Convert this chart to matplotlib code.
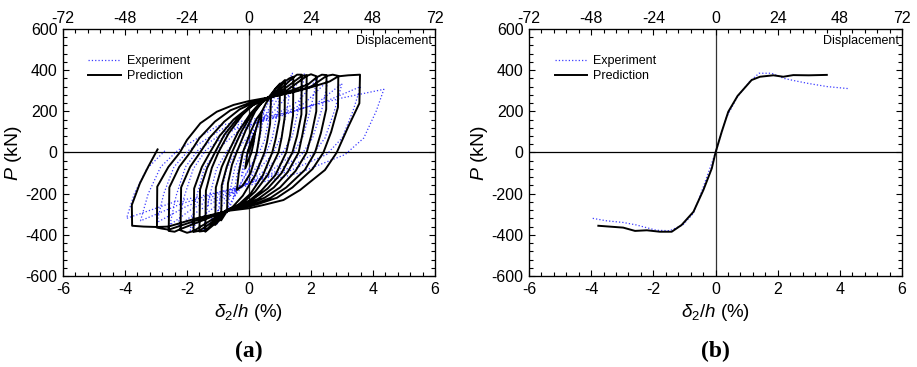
import matplotlib
matplotlib.use('Agg')
import matplotlib.pyplot as plt
from matplotlib.ticker import MultipleLocator

plt.rcParams['font.family'] = ['Liberation Sans', 'DejaVu Sans']
plt.rcParams['mathtext.fontset'] = 'custom'
plt.rcParams['mathtext.rm'] = 'Liberation Sans'
plt.rcParams['mathtext.it'] = 'Liberation Sans:italic'
plt.rcParams['axes.unicode_minus'] = False

# hysteresis, prediction (one line per cycle)
pred_drift = [
    0, 0.1, 0.2, 0.15, 0.08, -0.05, -0.12, -0.08, -0.05, 0.05,
    0.2, 0.3, 0.41, 0.36, 0.25, 0.05, -0.2, -0.39, -0.33, -0.2, 0.05, 0.25,
    0.41, 0.55, 0.71, 0.68, 0.58, 0.5, 0.2, -0.2, -0.5, -0.71, -0.68, -0.55, -0.4, -0.1, 0.2, 0.45,
    0.71, 0.85, 1.0, 0.98, 0.85, 0.75, 0.45, 0.05, -0.35, -0.71, -0.9, -0.88, -0.72, -0.55, -0.25, 0.1, 0.4, 0.6,
    0.8, 1.0, 1.16, 1.15, 1.05, 0.95, 0.6, 0.2, -0.2, -0.75, -0.9, -1.09, -1.07, -0.88, -0.67, -0.35, 0.05, 0.35, 0.6,
    0.9, 1.16, 1.3, 1.43, 1.42, 1.32, 1.2, 0.85, 0.4, 0.0, -0.72, -1.09, -1.41, -1.39, -1.2, -0.99, -0.65, -0.2, 0.2, 0.6,
    1.0, 1.43, 1.55, 1.7, 1.69, 1.55, 1.4, 1.05, 0.6, 0.1, -0.3, -0.72, -1.2, -1.41, -1.6, -1.58, -1.35, -1.1, -0.8, -0.35, 0.1, 0.6,
    1.1, 1.7, 1.86, 1.85, 1.72, 1.6, 1.25, 0.8, 0.3, -0.2, -0.7, -1.3, -1.6, -1.79, -1.77, -1.52, -1.26, -0.95, -0.5, 0.0, 0.6,
    1.2, 1.86, 2.0, 2.18, 2.17, 2.02, 1.86, 1.5, 1.0, 0.5, -0.1, -0.7, -1.4, -1.79, -2.0, -2.21, -2.19, -1.9, -1.58, -1.25, -0.8, -0.3, 0.2, 0.58,
    1.3, 1.9, 2.18, 2.35, 2.5, 2.49, 2.32, 2.13, 1.8, 1.2, 0.7, 0.1, -0.65, -1.5, -2.21, -2.4, -2.59, -2.57, -2.25, -1.9, -1.6, -1.1, -0.6, 0.0, 0.55,
    1.4, 2.0, 2.5, 2.7, 2.88, 2.87, 2.65, 2.4, 2.05, 1.4, 0.9, 0.3, -0.2, -0.65, -1.6, -2.59, -2.8, -2.97, -2.96, -2.6, -2.23, -2.0, -1.57, -1.04, -0.5, 0.0, 0.55,
    1.48, 2.07, 2.6, 2.88, 3.2, 3.58, 3.56, 3.2, 2.83, 2.45, 1.65, 1.11, 0.47, 0.0, -0.6, -1.7, -2.6, -2.97, -3.4, -3.77, -3.78, -3.52, -3.25, -2.95,
]
pred_load = [
    0, 55, 101, 50, 0, -50, -77, -35, 0, 45,
    101, 150, 198, 100, 0, -100, -160, -182, -100, 0, 100, 165,
    198, 240, 275, 140, 50, 0, -110, -210, -260, -288, -150, -60, 0, 110, 200, 250,
    275, 310, 335, 160, 60, 0, -110, -200, -255, -285, -330, -160, -70, 0, 100, 190, 240, 262,
    300, 330, 352, 170, 70, 0, -110, -190, -245, -283, -320, -352, -170, -70, 0, 100, 190, 240, 262,
    300, 345, 360, 368, 180, 80, 0, -110, -185, -235, -282, -345, -385, -185, -75, 0, 95, 185, 240, 265,
    305, 365, 378, 378, 185, 80, 0, -100, -175, -230, -260, -280, -350, -380, -384, -180, -75, 0, 85, 170, 230, 265,
    305, 372, 376, 190, 85, 0, -95, -170, -225, -258, -280, -350, -380, -386, -175, -70, 0, 80, 160, 220, 265,
    300, 372, 380, 370, 200, 90, 0, -90, -170, -220, -258, -280, -345, -382, -390, -378, -170, -70, 0, 75, 150, 210, 245, 265,
    298, 330, 365, 378, 376, 210, 95, 0, -85, -170, -220, -255, -280, -330, -372, -385, -381, -170, -70, 0, 70, 150, 205, 240, 262,
    295, 320, 372, 378, 372, 220, 100, 0, -80, -170, -220, -250, -268, -280, -325, -375, -370, -365, -166, -70, 0, 61, 142, 198, 231, 250, 265,
    295, 320, 345, 370, 375, 378, 239, 125, 0, -85, -182, -231, -255, -271, -282, -320, -360, -362, -360, -356, -255, -150, -69, 15,
]

# hysteresis, experiment
exp_drift = [
    0, 0.12, 0.25, 0.15, 0.05, -0.1, -0.25, -0.15, -0.05,
    0.2, 0.35, 0.5, 0.42, 0.3, 0.15, -0.2, -0.5, -0.4, -0.25, 0.0,
    0.35, 0.75, 0.65, 0.5, 0.3, 0.0, -0.4, -0.71, -0.6, -0.45, -0.2, 0.2,
    0.6, 1.05, 0.92, 0.75, 0.5, 0.1, -0.5, -1.05, -0.92, -0.72, -0.4, 0.1,
    0.7, 1.1, 1.4, 1.25, 1.05, 0.75, 0.2, -0.6, -1.1, -1.47, -1.3, -1.05, -0.7, -0.1,
    0.8, 1.4, 1.8, 1.62, 1.4, 1.05, 0.4, -0.6, -1.4, -1.9, -1.72, -1.45, -1.05, -0.3,
    0.8, 1.6, 2.2, 2.0, 1.75, 1.4, 0.7, -0.4, -1.6, -2.3, -2.1, -1.8, -1.4, -0.5,
    0.8, 1.8, 2.55, 2.35, 2.05, 1.7, 0.9, -0.3, -1.8, -2.55, -2.35, -2.05, -1.65, -0.7,
    0.9, 2.2, 3.0, 2.75, 2.45, 2.05, 1.1, -0.2, -2.0, -2.97, -2.75, -2.42, -1.95, -0.8,
    1.0, 2.5, 3.6, 3.35, 3.0, 2.5, 1.3, 0.0, -2.2, -3.5, -3.25, -2.85, -2.3, -1.0,
    1.1, 3.0, 4.35, 4.1, 3.7, 3.1, 1.6, 0.0, -2.4, -3.95, -3.7, -3.3, -2.7,
]
exp_load = [
    0, 65, 130, 40, 0, -60, -120, -30, 10,
    100, 170, 220, 130, 30, -40, -130, -215, -120, -20, 60,
    160, 280, 170, 60, -10, -80, -190, -295, -180, -70, 10, 100,
    200, 340, 200, 70, -20, -100, -220, -352, -210, -80, 10, 100,
    210, 300, 385, 230, 80, -10, -100, -210, -300, -380, -230, -80, 10, 110,
    200, 300, 385, 230, 80, -10, -100, -200, -300, -378, -230, -80, 10, 110,
    180, 250, 360, 220, 80, -10, -90, -180, -280, -360, -220, -80, 10, 110,
    170, 240, 350, 210, 70, -10, -90, -170, -270, -352, -210, -70, 10, 110,
    170, 240, 335, 200, 70, -10, -90, -160, -260, -340, -200, -70, 10, 120,
    180, 250, 320, 200, 70, -10, -90, -150, -250, -332, -200, -70, 10, 130,
    190, 265, 307, 200, 70, -10, -100, -160, -240, -320, -200, -80, 10,
]

# envelopes
pred_env_drift = [-3.77, -2.97, -2.59, -2.21, -1.79, -1.41, -1.09, -0.71, -0.39, -0.12, 0.0,
                  0.2, 0.41, 0.71, 1.16, 1.43, 1.86, 2.18, 2.5, 3.0, 3.58]
pred_env_load = [-356, -365, -381, -378, -385, -385, -352, -288, -182, -77, 0,
                 101, 198, 275, 352, 368, 375, 368, 376, 375, 377]
exp_env_drift = [-3.95, -3.5, -2.97, -2.55, -1.9, -1.47, -1.05, -0.71, -0.4, 0.0,
                 0.35, 0.7, 1.1, 1.4, 1.8, 2.2, 2.5, 3.0, 3.6, 4.3]
exp_env_load = [-320, -332, -340, -352, -378, -380, -352, -295, -170, 0,
                170, 270, 345, 385, 385, 360, 350, 335, 320, 310]

H = 12.0  # mm per % drift (top axis)

fig = plt.figure(figsize=(9.17, 3.67), dpi=100)
ax1 = fig.add_axes([0.0687, 0.248, 0.4057, 0.673])
ax2 = fig.add_axes([0.5769, 0.248, 0.4068, 0.673])

blue = '#3c3cff'


def style(ax, tag):
    ax.axhline(0, color='k', lw=0.9, zorder=1)
    ax.axvline(0, color='#333333', lw=0.9, zorder=1)
    ax.set_xlim(-6, 6)
    ax.set_ylim(-600, 600)
    ax.xaxis.set_major_locator(MultipleLocator(2))
    ax.xaxis.set_minor_locator(MultipleLocator(0.4))
    ax.yaxis.set_major_locator(MultipleLocator(200))
    ax.yaxis.set_minor_locator(MultipleLocator(40))
    ax.tick_params(which='both', direction='in', right=True, labelsize=11.5, pad=4)
    ax.tick_params(which='major', length=4.5, width=0.8)
    ax.tick_params(which='minor', length=2.8, width=0.8)
    for s in ax.spines.values():
        s.set_linewidth(0.9)
    ax.set_xlabel(r'$\delta_2/h$ (%)', fontsize=13.5, labelpad=4)
    ax.set_ylabel(r'$P$ (kN)', fontsize=14, labelpad=1)
    top = ax.twiny()
    top.set_xlim(-6 * H, 6 * H)
    top.xaxis.set_major_locator(MultipleLocator(24))
    top.xaxis.set_minor_locator(MultipleLocator(4.8))
    top.tick_params(which='both', direction='in', labelsize=11.5, pad=2)
    top.tick_params(which='major', length=4.5, width=0.8)
    top.tick_params(which='minor', length=2.8, width=0.8)
    ax.text(0.993, 0.975, 'Displacement', transform=ax.transAxes,
            ha='right', va='top', fontsize=9)
    ax.legend(loc='upper left', bbox_to_anchor=(0.055, 0.915), frameon=False,
              fontsize=9, handlelength=2.6, handletextpad=0.5,
              labelspacing=0.25, borderaxespad=0)
    ax.text(0.5, -0.305, tag, transform=ax.transAxes, ha='center', va='center',
            fontsize=17, fontweight='bold', family='Liberation Serif')


ax1.plot(exp_drift, exp_load, ls=':', color=blue, lw=0.9, label='Experiment', zorder=2)
ax1.plot(pred_drift, pred_load, '-', color='k', lw=1.4, label='Prediction', zorder=3)
style(ax1, '(a)')

ax2.plot(exp_env_drift, exp_env_load, ls=':', color=blue, lw=0.9, label='Experiment', zorder=2)
ax2.plot(pred_env_drift, pred_env_load, '-', color='k', lw=1.4, label='Prediction', zorder=3)
style(ax2, '(b)')

fig.savefig('out.png', dpi=100)
